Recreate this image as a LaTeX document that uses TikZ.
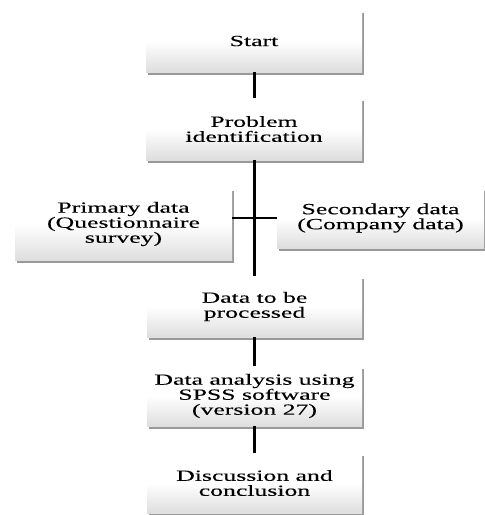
\documentclass[tikz,border=0pt]{standalone}
\usepackage{fontspec}
\setmainfont{Liberation Serif}[FakeStretch=1.66,FakeBold=0.2]
\usetikzlibrary{shadows,calc}
\begin{document}
\begin{tikzpicture}[x=1pt,y=-1pt,
  box/.style={rectangle, draw=none, top color=white, bottom color=gray!26,
    middle color=white, shading angle=0,
    drop shadow={shadow xshift=1.5pt,shadow yshift=-2.5pt,fill=black,opacity=0.4},
    align=center, inner sep=0pt, font=\fontsize{15.5}{15}\selectfont},
  mainline/.style={line width=3pt, black},
  sideline/.style={line width=1.5pt, black}]
\useasboundingbox (0,0) rectangle (485,515);
\node[box, minimum width=216pt, minimum height=62pt] (start) at (254,41) {Start};
\node[box, minimum width=216pt, minimum height=62pt] (prob) at (254,129) {Problem\\identification};
\node[box, minimum width=217pt, minimum height=72pt] (prim) at (123.5,224) {Primary data\\(Questionnaire\\survey)};
\node[box, minimum width=207pt, minimum height=60pt] (sec) at (380.5,218) {Secondary data\\(Company data)};
\node[box, minimum width=215pt, minimum height=61pt] (proc) at (254.5,306.5) {Data to be\\processed};
\node[box, minimum width=215pt, minimum height=60pt] (anal) at (254.5,396) {Data analysis using\\SPSS software\\(version 27)};
\node[box, minimum width=215pt, minimum height=60pt] (disc) at (254.5,483) {Discussion and\\conclusion};
\draw[sideline] (sec.west) -- (sec.west -| prim.east);
\draw[mainline] (start.south -| 254,0) -- (prob.north -| 254,0);
\draw[mainline] (prob.south -| 254,0) -- (proc.north -| 254,0);
\draw[mainline] (proc.south -| 254,0) -- (anal.north -| 254,0);
\draw[mainline] (anal.south -| 254,0) -- (disc.north -| 254,0);
\end{tikzpicture}
\end{document}
